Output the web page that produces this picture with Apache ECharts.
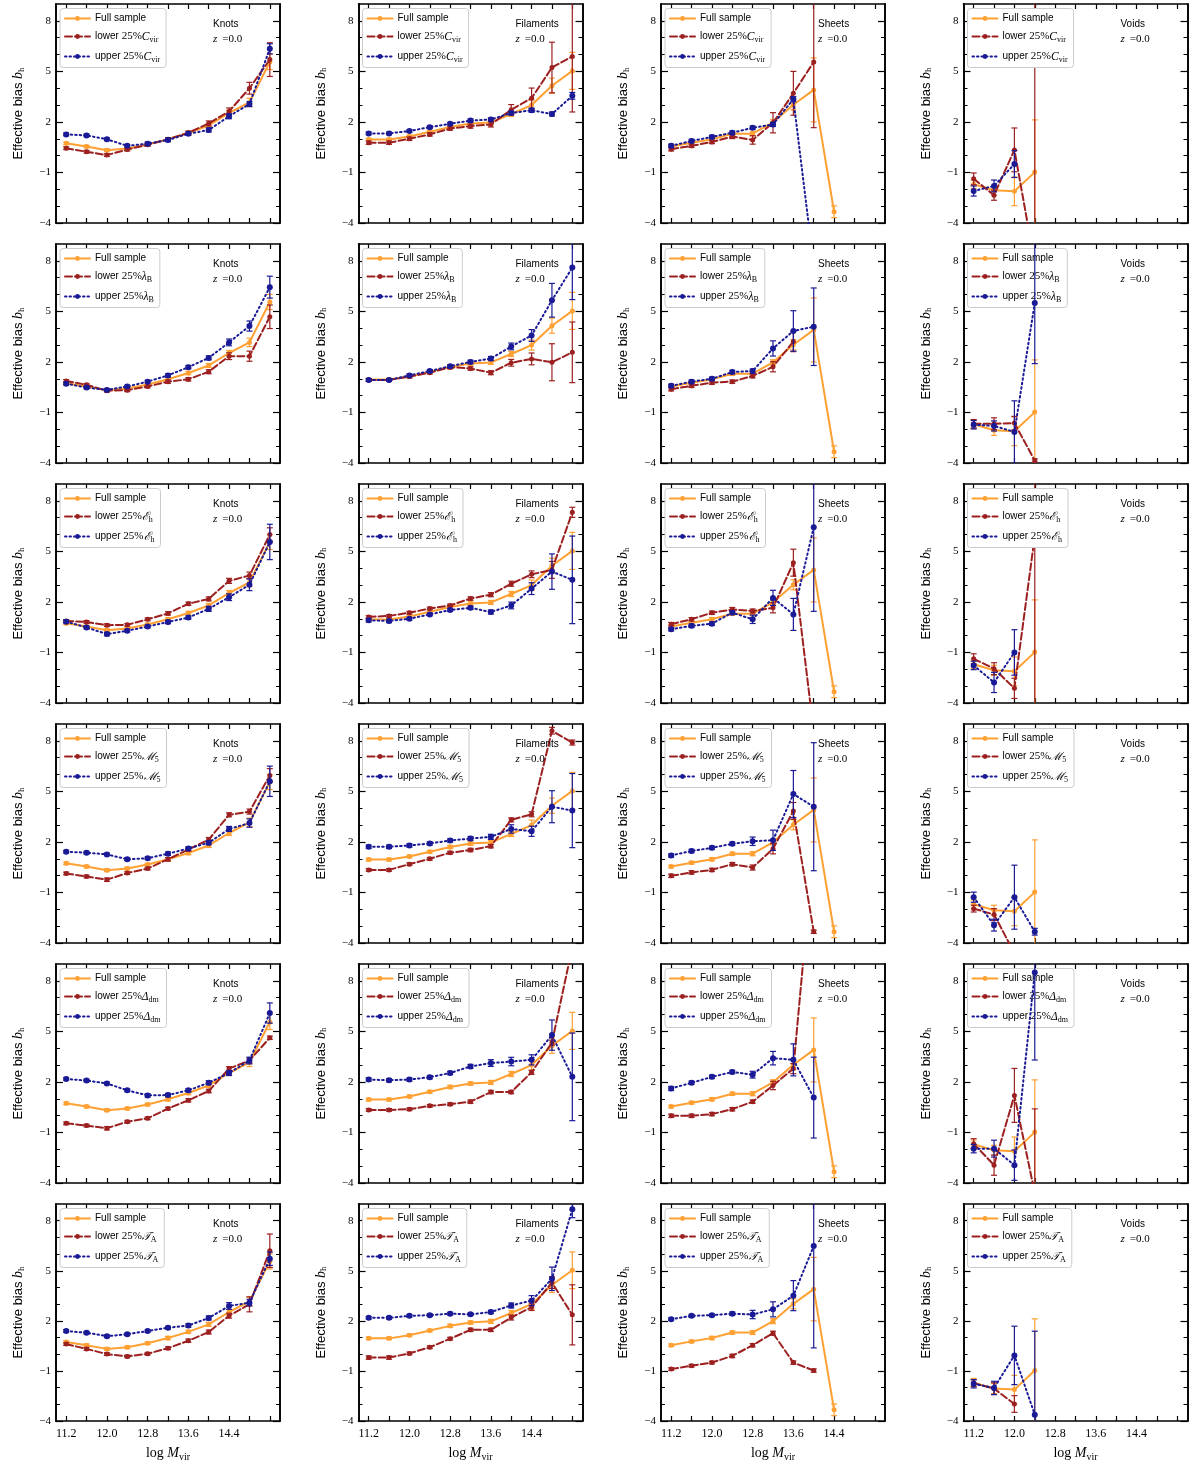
<!DOCTYPE html>
<html>
<head>
<meta charset="utf-8">
<script src="https://cdn.jsdelivr.net/npm/echarts@6/dist/echarts.min.js"></script>
<style>
  html, body { margin: 0; background: #fff; }
  #chart { width: 1200px; height: 1463px; }
</style>
</head>
<body>
<div id="chart"></div>
<script>
// mass bins (log Mvir) shared by all panels
var massBins = [11.2, 11.6, 12.0, 12.4, 12.8, 13.2, 13.6, 14.0, 14.4, 14.8, 15.2];
var xTicks = [11.2, 11.6, 12.0, 12.4, 12.8, 13.2, 13.6, 14.0, 14.4, 14.8, 15.2];
var xLabels = [11.2, 12.0, 12.8, 13.6, 14.4];
var yMajor = [-4, -1, 2, 5, 8];
var yMinor = [-3, -2, 0, 1, 3, 4, 6, 7];

var envNames = ['Knots', 'Filaments', 'Sheets', 'Voids'];
// property symbol + subscript, one per row
var propSym = [['C', 'vir'], ['λ', 'B'], ['ℰ', 'h'], ['ℳ', '5'], ['Δ', 'dm'], ['𝒯', 'A']];

// full sample, [value, error] (same in every row)
var fullKnots = [[0.73,.08],[0.54,.08],[0.32,.08],[0.42,.08],[0.66,.08],[0.97,.1],[1.34,.1],[1.79,.12],[2.53,.15],[3.16,.25],[5.56,.45]];
var fullFil = [[0.95,.08],[0.95,.08],[1.14,.08],[1.42,.08],[1.7,.1],[1.9,.1],[1.97,.12],[2.47,.15],[3.0,.3],[4.15,.45],[5.03,1.1]];
var fullSheets = [[0.54,.08],[0.77,.08],[0.97,.1],[1.3,.1],[1.3,.12],[1.98,.15],[3.02,.3],[3.9,1.9],[-3.33,.35]];
var fullVoids = [[-1.7,.25],[-2.06,.3],[-2.12,.85],[-0.98,3.1]];

// row 1: Cvir
var cvirKnotsLo = [[0.44,.08],[0.23,.08],[0.03,.08],[0.36,.08],[0.64,.08],[0.97,.1],[1.36,.1],[1.91,.15],[2.63,.2],[4.0,.35],[5.7,1.0]];
var cvirKnotsHi = [[1.26,.08],[1.2,.08],[0.97,.08],[0.58,.08],[0.71,.1],[0.93,.1],[1.3,.1],[1.52,.12],[2.34,.15],[3.06,.15],[6.34,.3]];
var cvirFilLo = [[0.77,.1],[0.77,.1],[1.0,.1],[1.26,.1],[1.61,.1],[1.75,.12],[1.85,.15],[2.73,.3],[3.41,.6],[5.23,1.5],[5.89,3.3]];
var cvirFilHi = [[1.32,.08],[1.32,.08],[1.46,.08],[1.69,.08],[1.89,.08],[2.08,.1],[2.14,.1],[2.53,.12],[2.69,.12],[2.47,.12],[3.55,.2]];
var cvirSheetsLo = [[0.38,.1],[0.58,.1],[0.81,.1],[1.13,.12],[0.93,.25],[1.95,.6],[3.7,1.3],[5.56,3.9]];
var cvirSheetsHi = [[0.58,.1],[0.87,.1],[1.11,.1],[1.36,.1],[1.65,.1],[1.85,.12],[3.35,.15],[-6.5,.5]];
var cvirVoidsLo = [[-1.38,.35],[-2.35,.3],[0.34,1.3],[-6.4,16]];
var cvirVoidsHi = [[-2.1,.3],[-1.8,.35],[-0.5,.8]];

// row 2: lambda_B
var lamKnotsLo = [[0.87,.08],[0.64,.08],[0.29,.08],[0.32,.08],[0.54,.08],[0.83,.1],[0.97,.1],[1.42,.12],[2.34,.2],[2.34,.3],[4.68,.7]];
var lamKnotsHi = [[0.71,.08],[0.48,.08],[0.34,.08],[0.54,.08],[0.83,.08],[1.2,.1],[1.69,.1],[2.24,.12],[3.16,.2],[4.13,.3],[6.44,.65]];
var lamFilLo = [[0.93,.08],[0.93,.08],[1.13,.08],[1.36,.08],[1.69,.1],[1.61,.1],[1.36,.12],[1.95,.2],[2.18,.35],[1.98,1.1],[2.57,1.8]];
var lamFilHi = [[0.93,.08],[0.93,.08],[1.2,.08],[1.46,.08],[1.75,.08],[2.0,.1],[2.2,.12],[2.92,.2],[3.57,.35],[5.66,1.0],[7.6,1.9]];
var lamSheetsLo = [[0.38,.1],[0.58,.1],[0.77,.1],[0.83,.1],[1.17,.12],[1.71,.3],[3.21,.6]];
var lamSheetsHi = [[0.58,.1],[0.83,.1],[1.0,.1],[1.4,.1],[1.46,.12],[2.8,.45],[3.84,1.2],[4.09,2.3]];
var lamVoidsLo = [[-1.67,.25],[-1.67,.35],[-1.63,.4],[-3.85,.1]];
var lamVoidsHi = [[-1.73,.25],[-1.8,.3],[-2.16,1.85],[5.5,3.6]];

// row 3: E_h
var ehKnotsLo = [[0.87,.08],[0.81,.08],[0.62,.08],[0.64,.08],[0.97,.08],[1.32,.1],[1.89,.1],[2.18,.12],[3.25,.15],[3.57,.2],[6.0,.4]];
var ehKnotsHi = [[0.83,.08],[0.48,.08],[0.09,.1],[0.29,.08],[0.54,.08],[0.81,.1],[1.07,.1],[1.59,.15],[2.28,.2],[3.02,.35],[5.56,1.05]];
var ehFilLo = [[1.11,.08],[1.17,.08],[1.36,.08],[1.61,.08],[1.79,.08],[2.2,.1],[2.43,.12],[3.08,.15],[3.64,.2],[3.9,.5],[7.32,.3]];
var ehFilHi = [[0.91,.1],[0.87,.1],[1.0,.08],[1.26,.08],[1.52,.08],[1.65,.1],[1.4,.12],[1.79,.2],[2.79,.35],[3.8,1.05],[3.31,2.6]];
var ehSheetsLo = [[0.68,.1],[0.97,.1],[1.36,.1],[1.55,.12],[1.46,.12],[1.65,.3],[4.33,.8],[-5.7,.5]];
var ehSheetsHi = [[0.38,.1],[0.58,.1],[0.71,.1],[1.36,.1],[0.97,.25],[2.24,.45],[1.26,.95],[6.44,5]];
var ehVoidsLo = [[-1.38,.3],[-1.96,.35],[-3.13,.6],[5.9,12]];
var ehVoidsHi = [[-1.77,.25],[-2.78,.6],[-1.0,1.35]];

// row 4: M_5
var m5KnotsLo = [[0.13,.08],[-0.05,.08],[-0.24,.1],[0.15,.08],[0.42,.08],[0.97,.1],[1.55,.1],[2.14,.12],[3.61,.12],[3.8,.15],[5.95,.4]];
var m5KnotsHi = [[1.42,.08],[1.36,.08],[1.26,.08],[0.97,.08],[1.03,.08],[1.3,.1],[1.61,.1],[1.95,.12],[2.77,.15],[3.12,.25],[5.6,.9]];
var m5FilLo = [[0.34,.08],[0.34,.08],[0.68,.08],[1.0,.08],[1.36,.08],[1.52,.1],[1.75,.1],[3.31,.12],[3.64,.15],[8.6,.2],[7.9,.15]];
var m5FilHi = [[1.71,.1],[1.71,.1],[1.79,.1],[1.91,.1],[2.08,.1],[2.2,.12],[2.3,.15],[2.77,.25],[2.63,.3],[4.09,.95],[3.86,2.2]];
var m5SheetsLo = [[-0.01,.1],[0.19,.1],[0.34,.1],[0.68,.1],[0.48,.15],[1.59,.3],[3.84,.5],[-3.33,.1]];
var m5SheetsHi = [[1.2,.1],[1.46,.1],[1.65,.1],[1.89,.1],[2.04,.25],[2.1,.6],[4.84,1.4],[4.09,3.8]];
var m5VoidsLo = [[-1.96,.2],[-2.31,.35],[-4.6,.3]];
var m5VoidsHi = [[-1.28,.3],[-2.94,.35],[-1.28,1.9],[-3.33,.2]];

// row 5: Delta_dm
var ddmKnotsLo = [[-0.46,.08],[-0.59,.08],[-0.75,.1],[-0.36,.08],[-0.16,.08],[0.42,.08],[0.91,.1],[1.46,.1],[2.79,.12],[3.27,.15],[4.62,.1]];
var ddmKnotsHi = [[2.18,.08],[2.08,.08],[1.91,.08],[1.5,.08],[1.2,.1],[1.22,.1],[1.5,.1],[1.95,.12],[2.53,.15],[3.27,.2],[6.09,.6]];
var ddmFilLo = [[0.34,.08],[0.34,.08],[0.38,.08],[0.58,.08],[0.68,.08],[0.83,.1],[1.4,.1],[1.4,.1],[2.57,.12],[4.33,.15],[10,.5]];
var ddmFilHi = [[2.14,.1],[2.1,.1],[2.14,.1],[2.28,.1],[2.53,.1],[2.92,.12],[3.12,.2],[3.21,.25],[3.31,.3],[4.78,.9],[2.3,2.6]];
var ddmSheetsLo = [[-0.01,.1],[-0.01,.1],[0.09,.1],[0.38,.1],[0.83,.1],[1.79,.25],[2.79,.3],[16,1]];
var ddmSheetsHi = [[1.61,.12],[1.95,.1],[2.3,.1],[2.59,.1],[2.43,.2],[3.41,.4],[3.31,.95],[1.07,2.4]];
var ddmVoidsLo = [[-1.67,.3],[-2.94,.6],[1.2,1.6],[-4.6,5]];
var ddmVoidsHi = [[-1.96,.25],[-1.96,.5],[-2.94,.9],[8.5,5.2]];

// row 6: T_A
var taKnotsLo = [[0.61,.08],[0.32,.08],[0.01,.08],[-0.13,.08],[0.03,.08],[0.36,.08],[0.81,.1],[1.33,.12],[2.31,.15],[2.99,.45],[6.2,1.0]];
var taKnotsHi = [[1.39,.08],[1.29,.08],[1.08,.08],[1.2,.08],[1.39,.08],[1.59,.08],[1.72,.1],[2.17,.12],[2.89,.2],[3.09,.2],[5.72,.4]];
var taFilLo = [[-0.2,.1],[-0.2,.1],[0.05,.08],[0.42,.08],[0.93,.08],[1.46,.1],[1.46,.1],[2.2,.15],[2.82,.2],[4.29,.35],[2.36,1.8]];
var taFilHi = [[2.18,.08],[2.18,.08],[2.3,.08],[2.34,.08],[2.43,.08],[2.39,.08],[2.53,.1],[2.92,.15],[3.21,.3],[4.52,.7],[8.68,.5]];
var taSheetsLo = [[-0.89,.08],[-0.69,.08],[-0.5,.08],[-0.1,.1],[0.54,.1],[1.26,.12],[-0.5,.1],[-0.98,.1]];
var taSheetsHi = [[2.1,.08],[2.3,.08],[2.34,.08],[2.43,.1],[2.38,.25],[2.69,.45],[3.51,.9],[6.48,6.1]];
var taVoidsLo = [[-1.73,.2],[-2.06,.35],[-2.98,.5]];
var taVoidsHi = [[-1.77,.25],[-2.02,.4],[-0.07,1.75],[-3.62,5]];

var fullCols = [fullKnots, fullFil, fullSheets, fullVoids];
var loRows = [
  [cvirKnotsLo, cvirFilLo, cvirSheetsLo, cvirVoidsLo],
  [lamKnotsLo, lamFilLo, lamSheetsLo, lamVoidsLo],
  [ehKnotsLo, ehFilLo, ehSheetsLo, ehVoidsLo],
  [m5KnotsLo, m5FilLo, m5SheetsLo, m5VoidsLo],
  [ddmKnotsLo, ddmFilLo, ddmSheetsLo, ddmVoidsLo],
  [taKnotsLo, taFilLo, taSheetsLo, taVoidsLo]
];
var hiRows = [
  [cvirKnotsHi, cvirFilHi, cvirSheetsHi, cvirVoidsHi],
  [lamKnotsHi, lamFilHi, lamSheetsHi, lamVoidsHi],
  [ehKnotsHi, ehFilHi, ehSheetsHi, ehVoidsHi],
  [m5KnotsHi, m5FilHi, m5SheetsHi, m5VoidsHi],
  [ddmKnotsHi, ddmFilHi, ddmSheetsHi, ddmVoidsHi],
  [taKnotsHi, taFilHi, taSheetsHi, taVoidsHi]
];

var ORANGE = '#ffa033', RED = '#9c2020', BLUE = '#1a1a96';
var SANS = 'Liberation Sans', SERIF = 'Liberation Serif';
var colLeft = [56, 358.5, 661, 963.5];
var rowTop = [4, 244, 484, 724, 964, 1204];
var PANEL_W = 224, PANEL_H = 219;

var richMath = {
  t: { fontFamily: SANS, fontSize: 10, color: '#000' },
  n: { fontFamily: SERIF, fontSize: 11, color: '#000' },
  m: { fontFamily: SERIF, fontStyle: 'italic', fontSize: 11.5, color: '#000' },
  s: { fontFamily: SERIF, fontSize: 8, color: '#000', padding: [6, 0, 0, 0] }
};

function legendText(label) {
  var parts = label.split('|');
  if (parts.length < 3) return '{t|' + label + '}';
  return '{t|' + parts[0] + ' }{n|25%}{m|' + parts[1] + '}{s|' + parts[2] + '}';
}

function toPoints(arr) {
  return arr.map(function (d, i) { return [massBins[i], d[0]]; });
}
function toErr(arr) {
  return arr.map(function (d, i) { return [massBins[i], d[0], d[1]]; });
}

function errRender(color) {
  return function (params, api) {
    var x = api.value(0), y = api.value(1), e = api.value(2);
    var hi = api.coord([x, y + e]), lo = api.coord([x, y - e]);
    var cap = 3;
    var st = { stroke: color, lineWidth: 1.2 };
    return {
      type: 'group',
      children: [
        { type: 'line', shape: { x1: hi[0], y1: hi[1], x2: lo[0], y2: lo[1] }, style: st },
        { type: 'line', shape: { x1: hi[0] - cap, y1: hi[1], x2: hi[0] + cap, y2: hi[1] }, style: st },
        { type: 'line', shape: { x1: lo[0] - cap, y1: lo[1], x2: lo[0] + cap, y2: lo[1] }, style: st }
      ]
    };
  };
}

function buildOption() {
  var grids = [], xAxes = [], yAxes = [], series = [], legends = [], titles = [];
  var frame = { show: true, onZero: false, lineStyle: { color: '#000', width: 1.6 } };

  for (var r = 0; r < 6; r++) {
    for (var c = 0; c < 4; c++) {
      var g = r * 4 + c;
      var gLeft = colLeft[c], gTop = rowTop[r];
      grids.push({ left: gLeft, top: gTop, width: PANEL_W, height: PANEL_H });

      var bottomRow = r === 5;
      xAxes.push({
        type: 'value', gridIndex: g, position: 'bottom', min: 11.0, max: 15.4,
        axisLine: frame, splitLine: { show: false },
        axisTick: { inside: true, length: 5, customValues: xTicks, lineStyle: { color: '#000', width: 1.2 } },
        axisLabel: {
          show: bottomRow, customValues: xLabels, margin: 7,
          fontFamily: SERIF, fontSize: 12, color: '#000',
          formatter: function (v) { return v.toFixed(1); }
        },
        name: bottomRow ? '{r|log }{m|M}{s|vir}' : '',
        nameLocation: 'middle', nameGap: 24,
        nameTextStyle: {
          rich: {
            r: { fontFamily: SERIF, fontSize: 14, color: '#000' },
            m: { fontFamily: SERIF, fontStyle: 'italic', fontSize: 14, color: '#000' },
            s: { fontFamily: SERIF, fontSize: 10, color: '#000', padding: [7, 0, 0, 0] }
          }
        }
      });
      xAxes.push({
        type: 'value', gridIndex: g, position: 'top', min: 11.0, max: 15.4,
        axisLine: frame, splitLine: { show: false },
        axisTick: { inside: true, length: 5, customValues: xTicks, lineStyle: { color: '#000', width: 1.2 } },
        axisLabel: { show: false }
      });

      var yBase = { type: 'value', gridIndex: g, min: -4, max: 9, axisLine: frame, splitLine: { show: false } };
      yAxes.push(Object.assign({}, yBase, {
        position: 'left',
        axisTick: { inside: true, length: 7, customValues: yMajor, lineStyle: { color: '#000', width: 1.2 } },
        axisLabel: {
          customValues: yMajor, margin: 5, fontFamily: SERIF, fontSize: 11, color: '#000',
          formatter: function (v) { return v < 0 ? '\u2212' + Math.abs(v) : String(v); }
        },
        name: '{t|Effective bias }{m|b}{s|h}', nameLocation: 'middle', nameGap: 30,
        nameTextStyle: {
          rich: {
            t: { fontFamily: SANS, fontSize: 13, color: '#000' },
            m: { fontFamily: SERIF, fontStyle: 'italic', fontSize: 14, color: '#000' },
            s: { fontFamily: SERIF, fontSize: 9, color: '#000', padding: [6, 0, 0, 0] }
          }
        }
      }));
      yAxes.push(Object.assign({}, yBase, {
        position: 'left',
        axisTick: { inside: true, length: 4, customValues: yMinor, lineStyle: { color: '#000', width: 1 } },
        axisLabel: { show: false }
      }));
      yAxes.push(Object.assign({}, yBase, {
        position: 'right',
        axisTick: { inside: true, length: 7, customValues: yMajor, lineStyle: { color: '#000', width: 1.2 } },
        axisLabel: { show: false }
      }));
      yAxes.push(Object.assign({}, yBase, {
        position: 'right',
        axisTick: { inside: true, length: 4, customValues: yMinor, lineStyle: { color: '#000', width: 1 } },
        axisLabel: { show: false }
      }));

      var loName = 'lower|' + propSym[r][0] + '|' + propSym[r][1];
      var hiName = 'upper|' + propSym[r][0] + '|' + propSym[r][1];
      var sets = [
        { label: 'Full sample', data: fullCols[c], color: ORANGE, dash: 'solid', size: 5 },
        { label: loName, data: loRows[r][c], color: RED, dash: [7, 3], size: 5 },
        { label: hiName, data: hiRows[r][c], color: BLUE, dash: [1.5, 3], size: 6 }
      ];
      sets.forEach(function (s, k) {
        series.push({
          type: 'custom', name: 'err' + g + '_' + k, xAxisIndex: 2 * g, yAxisIndex: 4 * g,
          clip: true, silent: true, encode: { x: 0, y: 1 },
          renderItem: errRender(s.color), data: toErr(s.data), z: 2 + k
        });
        series.push({
          type: 'line', name: s.label, xAxisIndex: 2 * g, yAxisIndex: 4 * g,
          data: toPoints(s.data), clip: true, silent: true,
          symbol: 'circle', symbolSize: s.size,
          itemStyle: { color: s.color },
          lineStyle: { color: s.color, width: 2, type: s.dash, cap: 'round' },
          z: 2 + k
        });
      });

      legends.push({
        left: gLeft + 4, top: gTop + 4.5, orient: 'vertical',
        data: ['Full sample', loName, hiName],
        selectedMode: false, itemWidth: 25, itemHeight: 6, itemGap: 7,
        padding: [5, 6, 4, 4], backgroundColor: '#fff',
        borderColor: '#cccccc', borderWidth: 1, borderRadius: 3,
        formatter: legendText,
        textStyle: { fontFamily: SANS, fontSize: 10, color: '#000', rich: richMath }
      });

      titles.push({
        left: gLeft + 157, top: gTop + 14, itemGap: 0, padding: 0,
        text: '{e|' + envNames[c] + '}\n{z|z} {v|=0.0}',
        textStyle: {
          fontWeight: 'normal',
          rich: {
            e: { fontFamily: SANS, fontSize: 10, fontWeight: 'normal', color: '#000', lineHeight: 12 },
            z: { fontFamily: SERIF, fontStyle: 'italic', fontWeight: 'normal', fontSize: 11, color: '#000', lineHeight: 12 },
            v: { fontFamily: SERIF, fontSize: 11, fontWeight: 'normal', color: '#000', lineHeight: 12 }
          }
        }
      });
    }
  }
  return {
    backgroundColor: '#fff',
    animation: false,
    title: titles,
    legend: legends,
    grid: grids,
    xAxis: xAxes,
    yAxis: yAxes,
    series: series
  };
}

var myChart = echarts.init(document.getElementById('chart'));
myChart.setOption(buildOption());
</script>
</body>
</html>
